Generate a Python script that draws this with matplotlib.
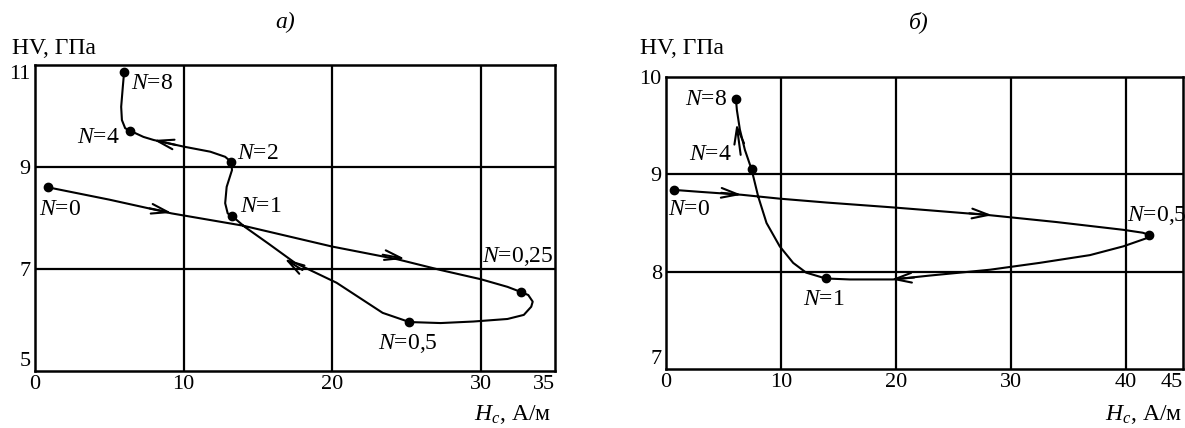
import numpy as np
import matplotlib
matplotlib.use('Agg')
import matplotlib.pyplot as plt

plt.rcParams['font.family'] = ['Liberation Serif', 'DejaVu Serif']
plt.rcParams['mathtext.fontset'] = 'custom'
plt.rcParams['mathtext.rm'] = 'Liberation Serif'
plt.rcParams['mathtext.it'] = 'Liberation Serif:italic'

# panel a: path of the curve (Hc, HV)
a_hc = [0.9, 5.0, 9.2, 14.0, 20.0, 24.4, 27.3, 30.0, 31.8, 32.7, 33.2, 33.5,
        33.4, 32.9, 31.8, 29.5, 27.3, 25.2,
        23.4, 20.3, 17.5, 15.7, 14.1, 13.26,
        12.97, 12.8, 12.9, 13.26, 13.2,
        12.8, 11.8, 10.0, 7.98, 7.3, 6.41,
        6.07, 5.85, 5.8, 5.91, 6.0]
a_hv = [8.60, 8.36, 8.09, 7.85, 7.44, 7.19, 6.98, 6.80, 6.65, 6.55, 6.49, 6.36,
        6.26, 6.10, 6.02, 5.97, 5.94, 5.96,
        6.14, 6.73, 7.12, 7.50, 7.83, 8.04,
        8.09, 8.29, 8.61, 8.94, 9.10,
        9.20, 9.30, 9.40, 9.53, 9.59, 9.71,
        9.76, 9.92, 10.18, 10.57, 10.87]
a_pts_hc = [0.9, 32.7, 25.2, 13.26, 13.2, 6.41, 6.0]
a_pts_hv = [8.60, 6.55, 5.96, 8.04, 9.10, 9.71, 10.87]
a_labels = ['$N$=0', '$N$=0,25', '$N$=0,5', '$N$=1', '$N$=2', '$N$=4', '$N$=8']
a_lab_x = [0.3, 30.1, 23.1, 13.8, 13.6, 5.7, 6.45]
a_lab_y = [8.16, 7.25, 5.53, 8.22, 9.27, 9.58, 10.64]
a_lab_ha = ['left', 'left', 'left', 'left', 'left', 'right', 'left']
# arrows: tail -> tip
a_arrows = [(7.7, 8.19, 9.2, 8.10), (23.4, 7.28, 24.9, 7.20),
            (18.0, 6.98, 16.8, 7.20), (9.5, 9.43, 7.98, 9.53)]

# panel b
b_hc = [0.7, 2.96, 6.58, 9.9, 14.0, 19.77, 22.96, 28.2, 33.97, 39.8, 41.5, 42.0,
        42.2, 41.5, 39.8, 36.9, 32.5, 28.2, 22.96, 19.77, 16.0, 13.9,
        12.2, 11.07, 9.9, 8.75, 8.03, 7.45, 6.87, 6.43, 6.17, 6.09]
b_hv = [8.84, 8.82, 8.79, 8.75, 8.71, 8.66, 8.63, 8.58, 8.51, 8.43, 8.40, 8.38,
        8.36, 8.33, 8.26, 8.17, 8.09, 8.02, 7.96, 7.92, 7.92, 7.93,
        7.99, 8.09, 8.26, 8.50, 8.77, 9.05, 9.25, 9.46, 9.66, 9.77]
b_pts_hc = [0.7, 42.0, 13.9, 7.45, 6.09]
b_pts_hv = [8.84, 8.38, 7.93, 9.05, 9.77]
b_labels = ['$N$=0', '$N$=0,5', '$N$=1', '$N$=4', '$N$=8']
b_lab_x = [0.15, 40.1, 11.9, 5.7, 5.3]
b_lab_y = [8.64, 8.58, 7.71, 9.20, 9.77]
b_lab_ha = ['left', 'left', 'left', 'right', 'right']
b_arrows = [(4.8, 8.81, 6.58, 8.79), (26.4, 8.60, 28.4, 8.58),
            (21.6, 7.94, 19.6, 7.92), (6.5, 9.20, 6.14, 9.52)]

fig = plt.figure(figsize=(11.85, 4.28), dpi=100)
ax1 = fig.add_axes([35 / 1185, 1 - 371 / 428, 520 / 1185, 306 / 428])
ax2 = fig.add_axes([666 / 1185, 1 - 369 / 428, 517 / 1185, 292 / 428])


def draw_panel(ax, hc, hv, pts_hc, pts_hv, labels, lx, ly, lha, arrows,
               xlim, ylim, xticks, yticks, xgrid, ygrid):
    ax.plot(hc, hv, color='k', lw=1.5, zorder=3, solid_joinstyle='round')
    ax.plot(pts_hc, pts_hv, 'o', color='k', ms=6, zorder=4)
    for t, x, y, ha in zip(labels, lx, ly, lha):
        ax.text(x, y, t, ha=ha, va='center', fontsize=17, clip_on=False, zorder=5)
    for x0, y0, x1, y1 in arrows:
        ax.annotate('', xy=(x1, y1), xytext=(x0, y0),
                    arrowprops=dict(arrowstyle='->,head_length=1.2,head_width=0.35',
                                    color='k', lw=1.5, shrinkA=0, shrinkB=0),
                    zorder=4)
    for g in xgrid:
        ax.axvline(g, color='k', lw=1.6, zorder=1)
    for g in ygrid:
        ax.axhline(g, color='k', lw=1.6, zorder=1)
    ax.set_xlim(*xlim)
    ax.set_ylim(*ylim)
    ax.set_xticks(xticks)
    ax.set_yticks(yticks)
    ax.tick_params(length=0, pad=3, labelsize=16)
    xl = ax.get_xticklabels()
    xl[-1].set_horizontalalignment('right')
    yl = ax.get_yticklabels()
    yl[0].set_verticalalignment('bottom')
    for s in ax.spines.values():
        s.set_linewidth(1.8)


draw_panel(ax1, a_hc, a_hv, a_pts_hc, a_pts_hv, a_labels, a_lab_x, a_lab_y,
           a_lab_ha, a_arrows, (0, 35), (5, 11), [0, 10, 20, 30, 35],
           [5, 7, 9, 11], [10, 20, 30], [7, 9])
draw_panel(ax2, b_hc, b_hv, b_pts_hc, b_pts_hv, b_labels, b_lab_x, b_lab_y,
           b_lab_ha, b_arrows, (0, 45), (7, 10), [0, 10, 20, 30, 40, 45],
           [7, 8, 9, 10], [10, 20, 30, 40], [8, 9])
ax1.get_yticklabels()[-1].set_verticalalignment('top')

fig.text(285 / 1185, 1 - 22 / 428, 'а)', style='italic', ha='center', va='center', fontsize=17)
fig.text(919 / 1185, 1 - 22 / 428, 'б)', style='italic', ha='center', va='center', fontsize=17)
fig.text(12 / 1185, 1 - 49 / 428, 'HV, ГПа', ha='left', va='center', fontsize=17)
fig.text(640 / 1185, 1 - 48 / 428, 'HV, ГПа', ha='left', va='center', fontsize=17)
fig.text(551 / 1185, 1 - 414 / 428, '$H_c$, А/м', ha='right', va='center', fontsize=17)
fig.text(1182 / 1185, 1 - 414 / 428, '$H_c$, А/м', ha='right', va='center', fontsize=17)

fig.savefig('out.png', dpi=100)
